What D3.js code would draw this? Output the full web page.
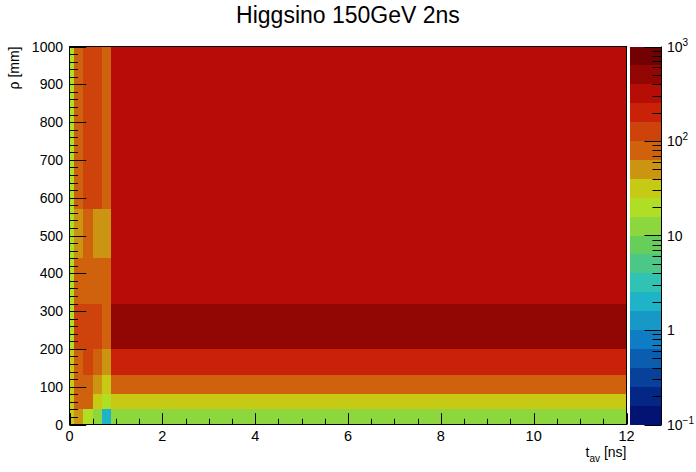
<!DOCTYPE html>
<html><head><meta charset="utf-8">
<script src="https://cdn.jsdelivr.net/npm/d3@7"></script>
<style>
body{margin:0;background:#fff}
svg{display:block}
text{font-family:"Liberation Sans",Arial,Helvetica,sans-serif;fill:#000}
</style>
</head><body>
<svg id="c" width="696" height="472"></svg>
<script>
// ---------- data ----------
const title = "Higgsino 150GeV 2ns";
const xTitle = "t";
const xTitleSub = "av";
const xTitleUnit = " [ns]";
const yTitle = "ρ [mm]";
const xEdges = [0, 0.1, 0.3, 0.5, 0.7, 0.9, 12];          // t_av bin edges [ns]
const yEdges = [0, 40, 80, 130, 200, 320, 440, 570, 1000]; // rho bin edges [mm]
// counts[row = rho bin][col = t_av bin]
const counts = [
  [32, 50, 20, 12.6, 2.0, 12.6],
  [32, 80, 80, 32, 20, 32],
  [32, 80, 80, 50, 32, 80],
  [32, 80, 126, 80, 50, 200],
  [20, 126, 126, 126, 80, 500],
  [20, 80, 80, 80, 80, 316],
  [20, 50, 80, 50, 50, 316],
  [20, 80, 126, 126, 80, 316]
];
const xTicks = [0, 2, 4, 6, 8, 10, 12];
const yTicks = [0, 100, 200, 300, 400, 500, 600, 700, 800, 900, 1000];
const zDomain = [0.1, 1000];
const zLabels = [{v: 0.1, b: "10", e: "−1"}, {v: 1, b: "1", e: ""}, {v: 10, b: "10", e: ""}, {v: 100, b: "10", e: "2"}, {v: 1000, b: "10", e: "3"}];
const nContours = 20;
// ROOT kRainBow palette stops
const palStops = [0, 0.125, 0.25, 0.375, 0.5, 0.625, 0.75, 0.875, 1];
const palRed   = [0, 5, 15, 35, 102, 196, 208, 199, 110];
const palGreen = [0, 48, 124, 192, 206, 226, 97, 16, 0];
const palBlue  = [99, 142, 198, 201, 90, 22, 13, 8, 2];

// ---------- palette (gradient table like ROOT, 255 colors) ----------
const NCOL = 255;
const table = [];
for (let g = 1; g < palStops.length; g++) {
  const s0 = Math.floor(NCOL * palStops[g - 1]), s1 = Math.floor(NCOL * palStops[g]);
  const n = s1 - s0;
  for (let c = 0; c < n; c++) {
    const r = palRed[g - 1] + c * (palRed[g] - palRed[g - 1]) / n;
    const gg = palGreen[g - 1] + c * (palGreen[g] - palGreen[g - 1]) / n;
    const b = palBlue[g - 1] + c * (palBlue[g] - palBlue[g - 1]) / n;
    table.push(d3.rgb(r, gg, b).formatHex());
  }
}
function contourColor(i) {
  const idx = Math.min(NCOL - 1, Math.floor((i + 0.99) * NCOL / nContours));
  return table[idx];
}
const lzMin = Math.log10(zDomain[0]), lzMax = Math.log10(zDomain[1]);
const dz = (lzMax - lzMin) / nContours;
function valueColor(v) {
  let i = Math.floor((Math.log10(v) - lzMin) / dz);
  i = Math.max(0, Math.min(nContours - 1, i));
  return contourColor(i);
}

// ---------- layout ----------
const svg = d3.select("#c");
const L = 69.5, R = 626.5, T = 46.5, B = 424.5;
const x = d3.scaleLinear().domain([0, 12]).range([L, R]);
const y = d3.scaleLinear().domain([0, 1000]).range([B, T]);

// cells
const cells = [];
counts.forEach((row, j) => row.forEach((v, i) => cells.push({x0: xEdges[i], x1: xEdges[i + 1], y0: yEdges[j], y1: yEdges[j + 1], v})));
svg.append("g").selectAll("rect").data(cells).join("rect")
  .attr("x", d => x(d.x0)).attr("y", d => y(d.y1))
  .attr("width", d => x(d.x1) - x(d.x0)).attr("height", d => y(d.y0) - y(d.y1))
  .attr("fill", d => valueColor(d.v)).attr("shape-rendering", "crispEdges");

// frame
svg.append("rect").attr("x", L).attr("y", T).attr("width", R - L).attr("height", B - T)
  .attr("fill", "none").attr("stroke", "#000").attr("stroke-width", 1);

// x axis ticks (pointing up)
const xMinor = d3.range(0, 12.001, 0.5);
const gx = svg.append("g");
gx.selectAll("line").data(xMinor).join("line")
  .attr("x1", d => Math.round(x(d)) + 0.5).attr("x2", d => Math.round(x(d)) + 0.5)
  .attr("y1", B).attr("y2", d => B - (Math.abs(d / 2 - Math.round(d / 2)) < 1e-6 ? 11.3 : 5.7))
  .attr("stroke", "#000");
gx.selectAll("text").data(xTicks).join("text")
  .attr("x", d => x(d)).attr("y", 441).attr("text-anchor", "middle")
  .attr("font-size", 14.5).text(d => d);

// y axis ticks (pointing right)
const yMinor = d3.range(0, 1000.001, 20);
const gy = svg.append("g");
gy.selectAll("line").data(yMinor).join("line")
  .attr("y1", d => Math.round(y(d)) + 0.5).attr("y2", d => Math.round(y(d)) + 0.5)
  .attr("x1", L).attr("x2", d => L + (d % 100 === 0 ? 16.7 : 8.4))
  .attr("stroke", "#000");
gy.selectAll("text").data(yTicks).join("text")
  .attr("x", 63).attr("y", d => y(d) + 5).attr("text-anchor", "end")
  .attr("font-size", 14).text(d => d);

// axis titles
const xt = svg.append("text").attr("x", R).attr("y", 457).attr("text-anchor", "end").attr("font-size", 14);
xt.append("tspan").text(xTitle);
xt.append("tspan").attr("font-size", 10).attr("dy", 5).text(xTitleSub);
xt.append("tspan").attr("dy", -5).text(xTitleUnit);
svg.append("text").attr("transform", `translate(19,${T}) rotate(-90)`).attr("text-anchor", "end")
  .attr("font-size", 14).text(yTitle);

// title
svg.append("text").attr("x", 348).attr("y", 23).attr("text-anchor", "middle")
  .attr("font-size", 23).text(title);

// ---------- color bar ----------
const PL = 629.5, PR = 661.5;
const z = d3.scaleLog().domain(zDomain).range([B, T]);
const bands = d3.range(nContours).map(i => ({i, lo: Math.pow(10, lzMin + i * dz), hi: Math.pow(10, lzMin + (i + 1) * dz)}));
svg.append("g").selectAll("rect").data(bands).join("rect")
  .attr("x", PL).attr("width", PR - PL)
  .attr("y", d => z(d.hi)).attr("height", d => z(d.lo) - z(d.hi))
  .attr("fill", d => contourColor(d.i)).attr("shape-rendering", "crispEdges");
svg.append("line").attr("x1", PR).attr("x2", PR).attr("y1", T).attr("y2", B).attr("stroke", "#000");
const zTicks = [];
for (let e = -1; e < 3; e++) for (let m = 1; m < 10; m++) zTicks.push(m * Math.pow(10, e));
zTicks.push(1000);
svg.append("g").selectAll("line").data(zTicks).join("line")
  .attr("y1", d => Math.round(z(d)) + 0.5).attr("y2", d => Math.round(z(d)) + 0.5)
  .attr("x1", PR).attr("x2", d => PR - (Math.abs(Math.log10(d) - Math.round(Math.log10(d))) < 1e-9 ? 17 : 9))
  .attr("stroke", "#000");
const zl = svg.append("g").selectAll("text").data(zLabels).join("text")
  .attr("x", 667).attr("y", d => z(d.v) + 5).attr("font-size", 14);
zl.append("tspan").text(d => d.b);
zl.append("tspan").attr("font-size", 10).attr("dy", -6).text(d => d.e);
</script>
</body></html>
